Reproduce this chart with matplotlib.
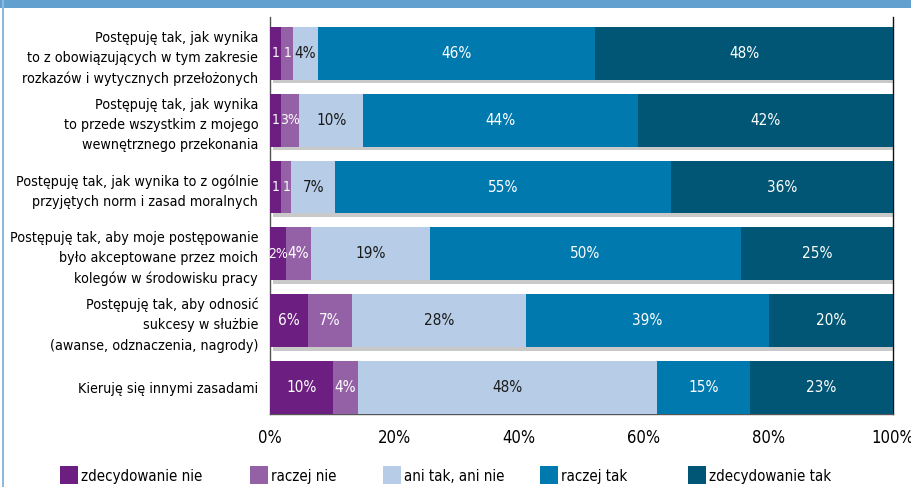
import matplotlib
matplotlib.use("Agg")
import matplotlib.pyplot as plt
import matplotlib.patheffects as pe
from matplotlib.patches import Rectangle
import numpy as np

plt.rcParams['font.family'] = ["DejaVu Sans"]
plt.rcParams['font.stretch'] = "condensed"

categories = [
    "Postępuję tak, jak wynika\nto z obowiązujących w tym zakresie\nrozkazów i wytycznych przełożonych",
    "Postępuję tak, jak wynika\nto przede wszystkim z mojego\nwewnętrznego przekonania",
    "Postępuję tak, jak wynika to z ogólnie\nprzyjętych norm i zasad moralnych",
    "Postępuję tak, aby moje postępowanie\nbyło akceptowane przez moich\nkolegów w środowisku pracy",
    "Postępuję tak, aby odnosić\nsukcesy w służbie\n(awanse, odznaczenia, nagrody)",
    "Kieruję się innymi zasadami",
]
series_names = ["zdecydowanie nie", "raczej nie", "ani tak, ani nie", "raczej tak", "zdecydowanie tak"]

zdecydowanie_nie = [1.8, 1.8, 1.8, 2.6, 6.1, 10.1]
raczej_nie = [1.9, 2.9, 1.6, 4.0, 7.1, 4.0]
ani_tak_ani_nie = [4.0, 10.3, 7.1, 19.1, 27.9, 48.0]
raczej_tak = [44.5, 44.0, 53.8, 49.9, 39.0, 14.9]
zdecydowanie_tak = [47.8, 41.0, 35.7, 24.4, 19.9, 23.0]

labels_zn = ["1", "1", "1", "2%", "6%", "10%"]
labels_rn = ["1", "3%", "1", "4%", "7%", "4%"]
labels_at = ["4%", "10%", "7%", "19%", "28%", "48%"]
labels_rt = ["46%", "44%", "55%", "50%", "39%", "15%"]
labels_zt = ["48%", "42%", "36%", "25%", "20%", "23%"]

xticks = [0, 20, 40, 60, 80, 100]
xtick_labels = ["0%", "20%", "40%", "60%", "80%", "100%"]

colors = ["#6C1F80", "#9461A6", "#B7CDE7", "#0079AF", "#005674"]
text_colors = ["white", "white", "#1a1a1a", "white", "white"]

series = [zdecydowanie_nie, raczej_nie, ani_tak_ani_nie, raczej_tak, zdecydowanie_tak]
labels = [labels_zn, labels_rn, labels_at, labels_rt, labels_zt]

W, H = 911, 487
fig = plt.figure(figsize=(W / 100, H / 100), dpi=100)

# decorative frame
fig.patches.append(Rectangle((0, 1 - 8 / H), 1, 8 / H, transform=fig.transFigure,
                             facecolor="#62A0CF", edgecolor="none", zorder=0))
fig.patches.append(Rectangle((2 / W, 0), 2 / W, 1, transform=fig.transFigure,
                             facecolor="#8DB9DE", edgecolor="none", zorder=0))

ax = fig.add_axes([270 / W, 1 - 414 / H, (893 - 270) / W, (414 - 17) / H])

n = len(categories)
y = np.arange(n)[::-1]
left = np.zeros(n)
shadow = [pe.SimplePatchShadow(offset=(2, -2.5), shadow_rgbFace="#666666", alpha=0.35), pe.Normal()]
for vals, name, col, tcol, labs in zip(series, series_names, colors, text_colors, labels):
    vals = np.array(vals)
    bars = ax.barh(y, vals, left=left, height=0.79, color=col, label=name, zorder=3)
    for b in bars:
        b.set_path_effects(shadow)
    for yi, l, v, t in zip(y, left, vals, labs):
        fs = 11 if v >= 3.5 else 10
        ax.text(l + v / 2, yi, t, ha="center", va="center", color=tcol,
                fontsize=fs, zorder=5)
    left = left + vals

ax.set_xlim(0, 100)
ax.set_ylim(-0.397, n - 1 + 0.546)
ax.set_yticks(y)
ax.set_yticklabels(categories, fontsize=10.3, linespacing=1.55)
ax.set_xticks(xticks)
ax.set_xticklabels(xtick_labels, fontsize=12)
ax.tick_params(axis="both", length=0)
ax.tick_params(axis="x", pad=11)
ax.tick_params(axis="y", pad=8.5)
ax.spines["top"].set_visible(False)
ax.spines["left"].set_color("#555555")
ax.spines["bottom"].set_color("#555555")
ax.spines["right"].set_color("#111111")
for s in ax.spines.values():
    s.set_linewidth(1.0)

# legend (manually placed to match the original layout)
legend_x = [60, 250, 383, 540, 688]
for lx, name, col in zip(legend_x, series_names, colors):
    fig.patches.append(Rectangle((lx / W, 1 - 484 / H), 18 / W, 18 / H,
                                 transform=fig.transFigure, facecolor=col,
                                 edgecolor="none"))
    fig.text((lx + 21) / W, 1 - 475 / H, name, fontsize=10.8, ha="left",
             va="center_baseline")

fig.savefig("out.png", dpi=100)
